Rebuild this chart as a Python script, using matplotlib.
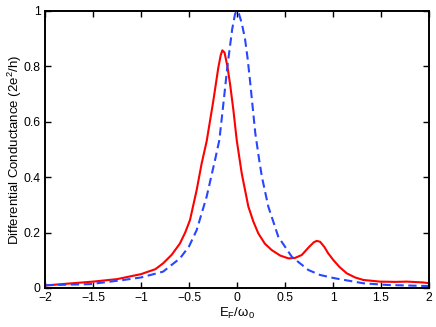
import numpy as np
import matplotlib.pyplot as plt

plt.rcParams['font.family'] = ['Liberation Sans', 'DejaVu Sans']
plt.rcParams['mathtext.fontset'] = 'custom'
plt.rcParams['mathtext.rm'] = 'Liberation Sans'
plt.rcParams['mathtext.it'] = 'Liberation Sans'

# red solid curve
x_red = [-2.0, -1.5, -1.25, -1.0, -0.85, -0.77, -0.68, -0.594, -0.54, -0.49,
         -0.42, -0.368, -0.316, -0.247, -0.195, -0.17, -0.153, -0.13, -0.10,
         -0.07, -0.038, -0.003, 0.049, 0.118, 0.17, 0.222, 0.29, 0.361, 0.45,
         0.535, 0.6, 0.674, 0.75, 0.80, 0.83, 0.865, 0.91, 0.95, 1.003, 1.07,
         1.143, 1.23, 1.316, 1.49, 1.65, 1.77, 1.94, 2.0]
y_red = [0.009, 0.023, 0.032, 0.05, 0.068, 0.089, 0.12, 0.161, 0.2, 0.245,
         0.354, 0.45, 0.53, 0.675, 0.795, 0.84, 0.858, 0.85, 0.80,
         0.73, 0.643, 0.534, 0.414, 0.294, 0.24, 0.197, 0.16, 0.137, 0.117,
         0.107, 0.108, 0.119, 0.148, 0.165, 0.17, 0.167, 0.148, 0.125, 0.101, 0.075,
         0.053, 0.038, 0.029, 0.023, 0.022, 0.023, 0.02, 0.017]

# blue dashed curve
x_blue = [-2.0, -1.53, -1.18, -1.0, -0.77, -0.594, -0.5, -0.42, -0.316, -0.229,
          -0.184, -0.15, -0.10, -0.05, -0.02, 0.0, 0.02, 0.05, 0.083, 0.11, 0.135,
          0.19, 0.232, 0.26, 0.326, 0.43, 0.57, 0.743, 0.865, 1.02, 1.316, 1.56, 2.0]
y_blue = [0.01, 0.014, 0.029, 0.038, 0.059, 0.107, 0.15, 0.209, 0.33, 0.462,
          0.534, 0.64, 0.80, 0.935, 0.99, 1.0, 0.99, 0.955, 0.90, 0.83, 0.75,
          0.56, 0.46, 0.40, 0.294, 0.185, 0.113, 0.065, 0.047, 0.035, 0.017, 0.011, 0.007]

xticks = [-2, -1.5, -1, -0.5, 0, 0.5, 1, 1.5, 2]
xticklabels = ['\u22122', '\u22121.5', '\u22121', '\u22120.5', '0', '0.5', '1', '1.5', '2']
yticks = [0, 0.2, 0.4, 0.6, 0.8, 1]
yticklabels = ['0', '0.2', '0.4', '0.6', '0.8', '1']

fig = plt.figure(figsize=(4.36, 3.27), dpi=100)
ax = fig.add_axes([0.1032, 0.1193, 0.8808, 0.8471])

ax.plot(x_red, y_red, color='red', lw=1.5)
ax.plot(x_blue, y_blue, color='#2846ff', lw=1.5, linestyle=(0, (4, 2.2)))

ax.set_xlim(-2, 2)
ax.set_ylim(0, 1)
ax.set_xticks(xticks)
ax.set_xticklabels(xticklabels)
ax.set_yticks(yticks)
ax.set_yticklabels(yticklabels)
ax.tick_params(direction='in', length=4, width=1, top=True, right=True,
               labelsize=8.7, pad=3)
for s in ax.spines.values():
    s.set_linewidth(1.4)

ax.set_xlabel(r'E$_F$/$\omega_0$', fontsize=9.5, labelpad=1)
ax.set_ylabel(r'Differential Conductance (2e$^2$/h)', fontsize=9.5)
ax.yaxis.set_label_coords(-0.055, 0.5)

plt.savefig('out.png', dpi=100)
